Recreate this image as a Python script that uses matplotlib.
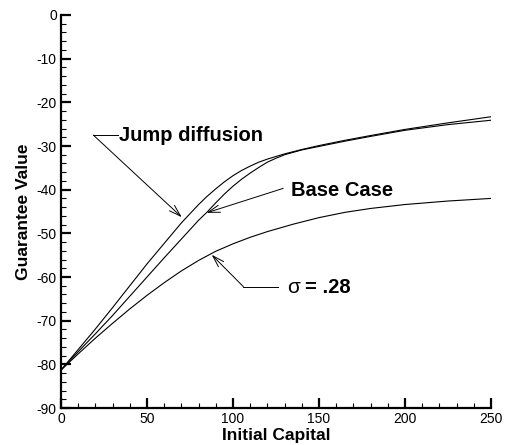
import numpy as np
import matplotlib.pyplot as plt
from matplotlib.ticker import MultipleLocator

plt.rcParams['font.family'] = ['Liberation Sans', 'DejaVu Sans']
plt.rcParams['axes.unicode_minus'] = False

# values
jump_x = [0, 10, 20, 30, 40, 50, 60, 70, 80, 85, 90, 95, 100, 105, 110, 115, 120, 130, 140, 150, 165, 180, 200, 225, 250]
jump_y = [-81.3, -76.6, -71.9, -67.0, -62.0, -57.0, -52.3, -47.6, -43.4, -41.5, -39.8, -38.2, -36.8, -35.6,
          -34.6, -33.7, -33.0, -31.8, -30.8, -29.9, -28.7, -27.6, -26.2, -24.7, -23.3]

base_x = [0, 10, 20, 30, 40, 50, 60, 70, 80, 85, 90, 95, 100, 105, 110, 115, 120, 125, 130, 140, 150, 165, 180, 200, 225, 250]
base_y = [-81.3, -77.1, -73.0, -68.8, -64.4, -60.0, -55.6, -51.3, -47.0, -45.1, -43.0, -41.0, -39.2, -37.6,
          -36.2, -34.9, -33.7, -32.8, -32.0, -30.9, -30.1, -28.9, -27.8, -26.4, -25.1, -24.1]

sig_x = [0, 10, 20, 30, 40, 50, 60, 70, 80, 90, 100, 110, 120, 135, 150, 165, 180, 200, 225, 250]
sig_y = [-81.3, -77.6, -74.0, -70.6, -67.3, -64.2, -61.3, -58.6, -56.2, -54.1, -52.4, -50.9, -49.6, -47.9,
         -46.4, -45.2, -44.3, -43.4, -42.6, -42.0]

fig = plt.figure(figsize=(5.05, 4.45), dpi=100)
ax = fig.add_axes([0.1208, 0.0831, 0.8515, 0.8832])

ax.plot(jump_x, jump_y, color='black', lw=0.8)
ax.plot(base_x, base_y, color='black', lw=0.8)
ax.plot(sig_x, sig_y, color='black', lw=0.8)

ax.set_xlim(0, 250)
ax.set_ylim(-90, 0)
ax.spines['top'].set_visible(False)
ax.spines['right'].set_visible(False)
ax.spines['left'].set_linewidth(1.6)
ax.spines['bottom'].set_linewidth(1.6)

ax.xaxis.set_major_locator(MultipleLocator(50))
ax.xaxis.set_minor_locator(MultipleLocator(10))
ax.yaxis.set_major_locator(MultipleLocator(10))
ax.yaxis.set_minor_locator(MultipleLocator(2))
ax.tick_params(which='major', direction='in', length=7, width=1.6, labelsize=10, pad=3)
ax.tick_params(which='minor', direction='in', length=3.5, width=0.8)

ax.set_xlabel('Initial Capital', fontsize=12.5, fontweight='bold', labelpad=1)
ax.set_ylabel('Guarantee Value', fontsize=12.5, fontweight='bold', labelpad=4)

arrow = dict(arrowstyle='->,head_length=0.7,head_width=0.22', color='black', lw=0.7,
             shrinkA=0, shrinkB=0, mutation_scale=12)

# Jump diffusion label
ax.plot([18.8, 33.3], [-27.5, -27.5], color='black', lw=0.7)
ax.annotate('', xy=(70.2, -46.3), xytext=(18.8, -27.5), arrowprops=arrow)
ax.text(33.9, -27.5, 'Jump diffusion', fontsize=14.5, fontweight='bold', va='center', ha='left')

# Base Case label
ax.annotate('', xy=(84.7, -45.3), xytext=(129.2, -39.7), arrowprops=arrow)
ax.text(133.5, -40.1, 'Base Case', fontsize=14.5, fontweight='bold', va='center', ha='left')

# sigma label
ax.plot([106, 126.2], [-62.2, -62.2], color='black', lw=0.7)
ax.annotate('', xy=(87.6, -54.9), xytext=(106, -62.2), arrowprops=arrow)
ax.text(131.4, -62.3, '\u03c3', fontsize=15, va='center', ha='left')
ax.text(141.9, -62.3, '= .28', fontsize=14.5, fontweight='bold', va='center', ha='left')

fig.savefig('out.png', dpi=100)
